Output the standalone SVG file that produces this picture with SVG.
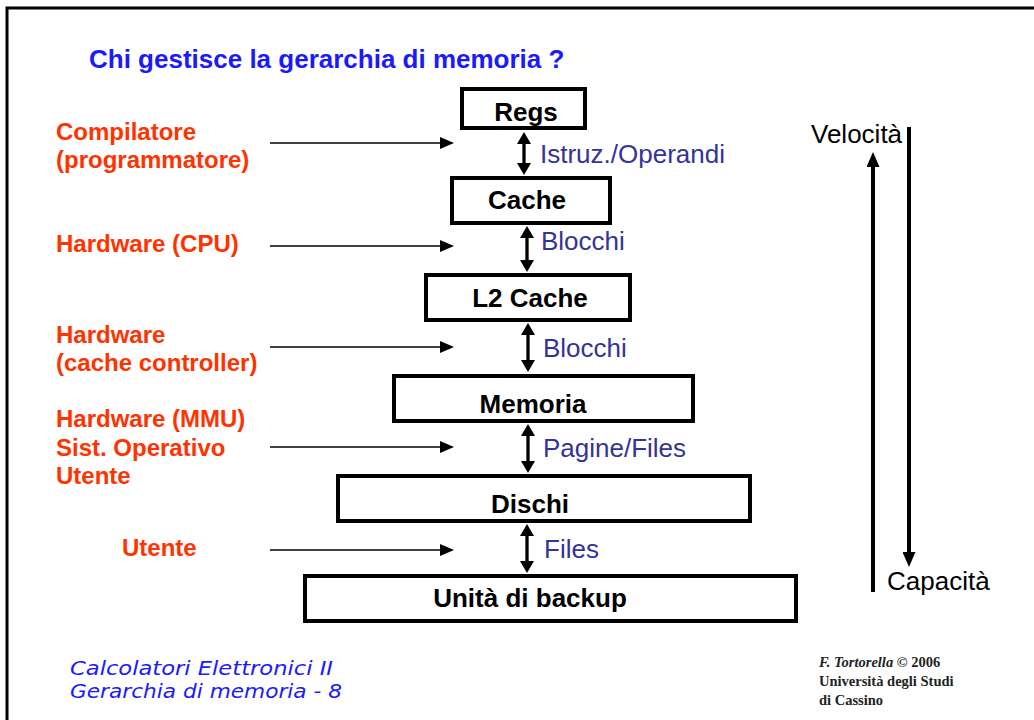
<svg xmlns="http://www.w3.org/2000/svg" width="1034" height="720" viewBox="0 0 1034 720">
<style>
.box{fill:#fff;stroke:#000;stroke-width:4}
.bt{font-family:"Liberation Sans",Arial,sans-serif;font-weight:bold;font-size:26px;fill:#000;text-anchor:middle}
.or{font-family:"Liberation Sans",Arial,sans-serif;font-weight:bold;font-size:24px;fill:#ff3300}
.bl{font-family:"Liberation Sans",Arial,sans-serif;font-size:26px;fill:#333399}
.bk{font-family:"Liberation Sans",Arial,sans-serif;font-size:26px;fill:#000}
.thin{stroke:#000;stroke-width:1.6;fill:none}
.dbl{stroke:#000;stroke-width:3.3;fill:none}
.big{stroke:#000;stroke-width:4;fill:none}
.foot{font-family:"DejaVu Sans","Liberation Sans",sans-serif;font-style:italic;font-size:19px;fill:#1a1aff}
.cr{font-family:"Liberation Serif","Times New Roman",serif;font-weight:bold;font-size:14.5px;fill:#222}
</style>
<defs>
<marker id="ah" markerUnits="userSpaceOnUse" markerWidth="14" markerHeight="12" viewBox="0 0 14 12" refX="0" refY="6" orient="auto-start-reverse"><path d="M0,0 L14,6 L0,12 z" fill="#000"/></marker>
<marker id="ad" markerUnits="userSpaceOnUse" markerWidth="12" markerHeight="14" viewBox="0 0 12 14" refX="0" refY="7" orient="auto-start-reverse"><path d="M0,0 L12,7 L0,14 z" fill="#000"/></marker>
<marker id="ab" markerUnits="userSpaceOnUse" markerWidth="15" markerHeight="13" viewBox="0 0 15 13" refX="0" refY="6.5" orient="auto-start-reverse"><path d="M0,0 L15,6.5 L0,13 z" fill="#000"/></marker>
</defs>
<rect x="0" y="0" width="1034" height="720" fill="#fff"/>
<path d="M7,730 V8 H1040" fill="none" stroke="#000" stroke-width="3"/>

<text x="89" y="68" font-family="Liberation Sans,Arial,sans-serif" font-weight="bold" font-size="26" fill="#1a1aff">Chi gestisce la gerarchia di memoria ?</text>

<g id="connectors">
<line class="thin" x1="270" y1="143" x2="440" y2="143" marker-end="url(#ah)"/>
<line class="thin" x1="270" y1="246" x2="440" y2="246" marker-end="url(#ah)"/>
<line class="thin" x1="270" y1="347" x2="440" y2="347" marker-end="url(#ah)"/>
<line class="thin" x1="270" y1="447" x2="440" y2="447" marker-end="url(#ah)"/>
<line class="thin" x1="270" y1="550" x2="440" y2="550" marker-end="url(#ah)"/>
<line class="dbl" x1="524" y1="144" x2="524" y2="163" marker-start="url(#ad)" marker-end="url(#ad)"/>
<line class="dbl" x1="527" y1="238" x2="527" y2="260" marker-start="url(#ad)" marker-end="url(#ad)"/>
<line class="dbl" x1="528" y1="335" x2="528" y2="360" marker-start="url(#ad)" marker-end="url(#ad)"/>
<line class="dbl" x1="528" y1="436" x2="528" y2="461" marker-start="url(#ad)" marker-end="url(#ad)"/>
<line class="dbl" x1="527" y1="536" x2="527" y2="561" marker-start="url(#ad)" marker-end="url(#ad)"/>
<line class="big" x1="873" y1="592" x2="873" y2="167" marker-end="url(#ab)"/>
<line class="big" x1="909" y1="127" x2="909" y2="552" marker-end="url(#ab)"/>
</g>

<g id="regs"><rect class="box" x="462" y="89" width="123" height="39"/><text class="bt" x="526" y="121">Regs</text></g>
<g id="cache"><rect class="box" x="452" y="178" width="158" height="45"/><text class="bt" x="527" y="209">Cache</text></g>
<g id="l2cache"><rect class="box" x="426" y="275" width="204" height="45"/><text class="bt" x="530" y="307">L2 Cache</text></g>
<g id="memoria"><rect class="box" x="394" y="376" width="299" height="45"/><text class="bt" x="533" y="413">Memoria</text></g>
<g id="dischi"><rect class="box" x="338" y="476" width="412" height="45"/><text class="bt" x="530" y="513">Dischi</text></g>
<g id="backup"><rect class="box" x="305" y="576" width="491" height="45"/><text class="bt" x="530" y="607">Unità di backup</text></g>

<g id="labels-orange">
<text class="or" x="56" y="140">Compilatore</text>
<text class="or" x="56" y="168">(programmatore)</text>
<text class="or" x="56" y="252">Hardware (CPU)</text>
<text class="or" x="56" y="343">Hardware</text>
<text class="or" x="56" y="371">(cache controller)</text>
<text class="or" x="56" y="427">Hardware (MMU)</text>
<text class="or" x="56" y="456">Sist. Operativo</text>
<text class="or" x="56" y="484">Utente</text>
<text class="or" x="122" y="556">Utente</text>
</g>

<g id="labels-blue">
<text class="bl" x="540" y="163">Istruz./Operandi</text>
<text class="bl" x="541" y="250">Blocchi</text>
<text class="bl" x="543" y="357">Blocchi</text>
<text class="bl" x="543" y="457">Pagine/Files</text>
<text class="bl" x="544" y="558">Files</text>
</g>

<text class="bk" x="811" y="143">Velocità</text>
<text class="bk" x="887" y="590">Capacità</text>

<text class="foot" x="70" y="675" textLength="263" lengthAdjust="spacingAndGlyphs">Calcolatori Elettronici II</text>
<text class="foot" x="70" y="698" textLength="272" lengthAdjust="spacingAndGlyphs">Gerarchia di memoria - 8</text>

<text class="cr" x="819" y="667"><tspan font-style="italic">F. Tortorella</tspan> © 2006</text>
<text class="cr" x="819" y="686">Università degli Studi</text>
<text class="cr" x="819" y="705">di Cassino</text>
</svg>
